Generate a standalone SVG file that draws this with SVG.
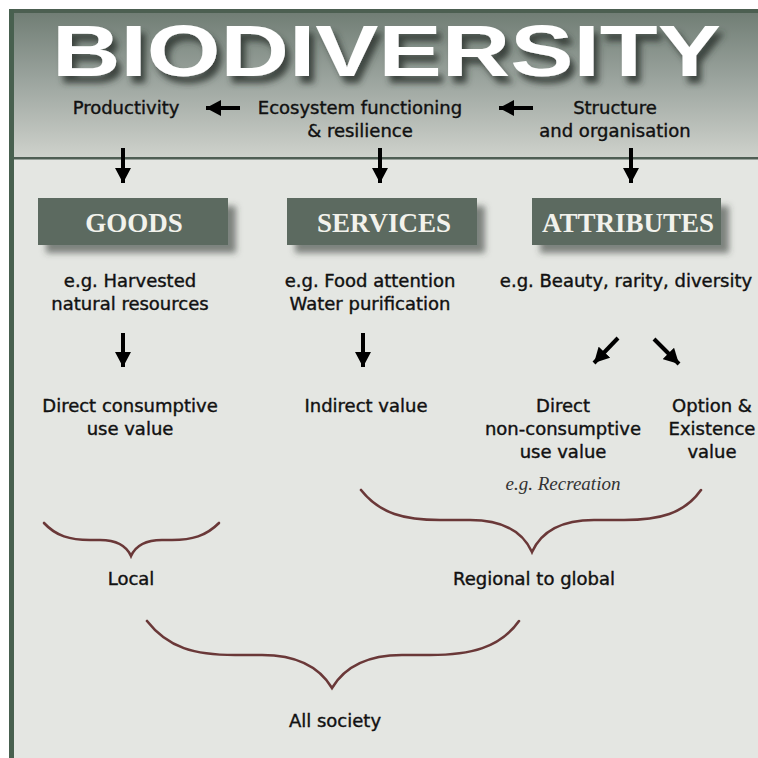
<svg xmlns="http://www.w3.org/2000/svg" width="758" height="758" viewBox="0 0 758 758">
<defs>
<linearGradient id="hdr" x1="0" y1="0" x2="0" y2="1">
<stop offset="0" stop-color="#717e75"/>
<stop offset="0.45" stop-color="#9aa39d"/>
<stop offset="1" stop-color="#cfd2cc"/>
</linearGradient>
<filter id="tshadow" x="-5%" y="-20%" width="115%" height="160%">
<feGaussianBlur in="SourceAlpha" stdDeviation="3"/>
<feOffset dx="5" dy="7" result="b"/>
<feFlood flood-color="#2e3530" flood-opacity="0.85"/>
<feComposite in2="b" operator="in"/>
<feMerge><feMergeNode/><feMergeNode in="SourceGraphic"/></feMerge>
</filter>
<filter id="bshadow" x="-10%" y="-20%" width="130%" height="160%">
<feGaussianBlur in="SourceAlpha" stdDeviation="3"/>
<feOffset dx="8" dy="8" result="b"/>
<feFlood flood-color="#3a403b" flood-opacity="0.6"/>
<feComposite in2="b" operator="in"/>
<feMerge><feMergeNode/><feMergeNode in="SourceGraphic"/></feMerge>
</filter>
<marker id="ah" viewBox="0 0 15 16" refX="15" refY="8" markerWidth="15" markerHeight="16" markerUnits="userSpaceOnUse" orient="auto">
<path d="M0,0 L15,8 L0,16 Z" fill="#000"/>
</marker>
<style>
.t{font-family:"DejaVu Sans","Liberation Sans",sans-serif;font-size:18px;fill:#111;stroke:#111;stroke-width:0.4;text-anchor:middle}
.h{font-family:"Liberation Serif","Times New Roman",serif;font-weight:bold;font-size:27px;fill:#f2f2ec;text-anchor:middle}
.box{fill:#5b6a60}
.arr{stroke:#000;stroke-width:4;fill:none;marker-end:url(#ah)}
.br{stroke:#6a3838;stroke-width:2.6;fill:none;stroke-linecap:round}
</style>
</defs>
<rect width="758" height="758" fill="#ffffff"/>
<rect x="9" y="9" width="749" height="749" fill="#e4e6e2"/>
<rect x="14" y="13" width="744" height="145" fill="url(#hdr)"/>
<rect x="9" y="9" width="749" height="4" fill="#4c5f51"/>
<rect x="9" y="9" width="5" height="749" fill="#48604f"/>
<rect x="14" y="157" width="744" height="2.5" fill="#4f5e54"/>

<g id="title">
<text x="52" y="76" textLength="669" lengthAdjust="spacingAndGlyphs" font-family="'Liberation Sans',Arial,sans-serif" font-weight="bold" font-size="72" fill="#ffffff" filter="url(#tshadow)">BIODIVERSITY</text>
</g>

<g id="productivity"><text class="t" x="126" y="114">Productivity</text></g>
<g id="ecosystem"><text class="t" x="360" y="114">Ecosystem functioning</text><text class="t" x="360" y="137">&amp; resilience</text></g>
<g id="structure"><text class="t" x="615" y="114">Structure</text><text class="t" x="615" y="137">and organisation</text></g>

<g id="goods"><rect class="box" x="38" y="198" width="190" height="47" filter="url(#bshadow)"/><text class="h" x="134" y="232">GOODS</text></g>
<g id="services"><rect class="box" x="287" y="198" width="190" height="47" filter="url(#bshadow)"/><text class="h" x="384" y="232">SERVICES</text></g>
<g id="attributes"><rect class="box" x="532" y="198" width="189" height="47" filter="url(#bshadow)"/><text class="h" x="628" y="232">ATTRIBUTES</text></g>

<g id="goods-eg"><text class="t" x="130" y="287">e.g. Harvested</text><text class="t" x="130" y="310">natural resources</text></g>
<g id="services-eg"><text class="t" x="370" y="287">e.g. Food attention</text><text class="t" x="370" y="310">Water purification</text></g>
<g id="attributes-eg"><text class="t" x="626" y="287">e.g. Beauty, rarity, diversity</text></g>

<g id="direct-consumptive"><text class="t" x="130" y="412">Direct consumptive</text><text class="t" x="130" y="435">use value</text></g>
<g id="indirect"><text class="t" x="366" y="412">Indirect value</text></g>
<g id="direct-nonconsumptive"><text class="t" x="563" y="412">Direct</text><text class="t" x="563" y="435">non-consumptive</text><text class="t" x="563" y="458">use value</text>
<text x="563" y="490" font-family="'Liberation Serif','Times New Roman',serif" font-style="italic" font-size="19" fill="#333" text-anchor="middle">e.g. Recreation</text></g>
<g id="option-existence"><text class="t" x="712" y="412">Option &amp;</text><text class="t" x="712" y="435">Existence</text><text class="t" x="712" y="458">value</text></g>

<g id="local"><text class="t" x="131" y="585">Local</text></g>
<g id="regional"><text class="t" x="534" y="585">Regional to global</text></g>
<g id="all-society"><text class="t" x="335" y="727">All society</text></g>

<g id="connectors">
<line class="arr" x1="240" y1="108" x2="206" y2="108"/>
<line class="arr" x1="533" y1="108" x2="499" y2="108"/>
<line class="arr" x1="123" y1="148" x2="123" y2="183"/>
<line class="arr" x1="380" y1="148" x2="380" y2="183"/>
<line class="arr" x1="631" y1="148" x2="631" y2="183"/>
<line class="arr" x1="123" y1="333" x2="123" y2="367"/>
<line class="arr" x1="363" y1="333" x2="363" y2="367"/>
<line class="arr" x1="618" y1="338" x2="594" y2="363"/>
<line class="arr" x1="654" y1="339" x2="679" y2="364"/>
</g>

<g id="braces">
<path class="br" d="M44,523 C56,536 70,540 90,540 L100,540 C116,540 126,545 131,556 C136,545 146,540 162,540 L172,540 C192,540 206,536 219,523"/>
<path class="br" d="M361,490 C380,514 405,520 440,520 L470,520 C500,520 522,530 532,552 C542,530 564,520 594,520 L624,520 C659,520 684,514 701,490"/>
<path class="br" d="M147,621 C168,648 195,655 235,655 L262,655 C298,655 320,668 332,688 C344,668 366,655 402,655 L430,655 C470,655 500,648 519,621"/>
</g>
</svg>
